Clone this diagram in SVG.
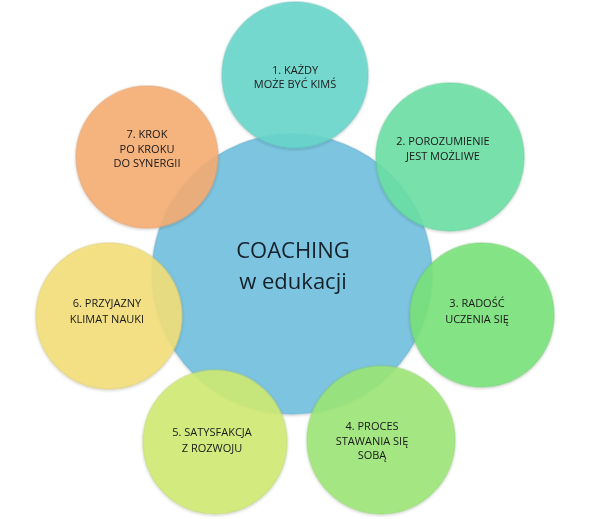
<svg xmlns="http://www.w3.org/2000/svg" width="591" height="519" viewBox="0 0 591 519">
<style>
.c{stroke-width:1.5;stroke-opacity:0.5}
.o{opacity:0.88}
.t{font-family:"Open Sans","Liberation Sans",sans-serif;font-size:11px;fill:#1a1a1a;text-anchor:middle}
.m{font-family:"Open Sans","Liberation Sans",sans-serif;font-size:22px;fill:#15202a;text-anchor:middle}
</style>
<defs>
<filter id="sh" x="-20%" y="-20%" width="140%" height="140%"><feGaussianBlur in="SourceAlpha" stdDeviation="1.5"/><feOffset dy="1"/><feComponentTransfer><feFuncA type="linear" slope="0.25"/></feComponentTransfer><feMerge><feMergeNode/><feMergeNode in="SourceGraphic"/></feMerge></filter>
</defs>
<rect width="591" height="519" fill="#ffffff"/>
<g id="center" filter="url(#sh)">
<circle cx="292" cy="274" r="140" fill="#7cc4e0" stroke="#6ab2d0" class="c"/>
<text class="m" x="293" y="258">COACHING</text>
<text class="m" x="293" y="289">w edukacji</text>
</g>
<g id="connectors"></g>
<g id="n1" filter="url(#sh)">
<circle class="o c" cx="295" cy="75" r="73" fill="#69d8cc" stroke="#5cc4b9"/>
<text class="t" x="295" y="74">1. KAŻDY</text>
<text class="t" x="295" y="88">MOŻE BYĆ KIMŚ</text>
</g>
<g id="n2" filter="url(#sh)">
<circle class="o c" cx="450" cy="157" r="74" fill="#6be1a5" stroke="#5ccb92"/>
<text class="t" x="443" y="145">2. POROZUMIENIE</text>
<text class="t" x="443" y="160">JEST MOŻLIWE</text>
</g>
<g id="n3" filter="url(#sh)">
<circle class="o c" cx="482" cy="315" r="72" fill="#7ae47a" stroke="#6ccd6c"/>
<text class="t" x="477" y="307">3. RADOŚĆ</text>
<text class="t" x="477" y="323">UCZENIA SIĘ</text>
</g>
<g id="n4" filter="url(#sh)">
<circle class="o c" cx="381" cy="440" r="74" fill="#9de877" stroke="#8ed36a"/>
<text class="t" x="372" y="430">4. PROCES</text>
<text class="t" x="372" y="445">STAWANIA SIĘ</text>
<text class="t" x="372" y="459">SOBĄ</text>
</g>
<g id="n5" filter="url(#sh)">
<circle class="o c" cx="215" cy="442" r="72" fill="#d1ec74" stroke="#bdd668"/>
<text class="t" x="212" y="436">5. SATYSFAKCJA</text>
<text class="t" x="212" y="452">Z ROZWOJU</text>
</g>
<g id="n6" filter="url(#sh)">
<circle class="o c" cx="109" cy="316" r="73" fill="#f5e17a" stroke="#dccb6c"/>
<text class="t" x="107" y="307">6. PRZYJAZNY</text>
<text class="t" x="107" y="323">KLIMAT NAUKI</text>
</g>
<g id="n7" filter="url(#sh)">
<circle class="o c" cx="147" cy="157" r="71" fill="#f7ae73" stroke="#df9c66"/>
<text class="t" x="147" y="138">7. KROK</text>
<text class="t" x="147" y="153">PO KROKU</text>
<text class="t" x="147" y="167">DO SYNERGII</text>
</g>
</svg>
